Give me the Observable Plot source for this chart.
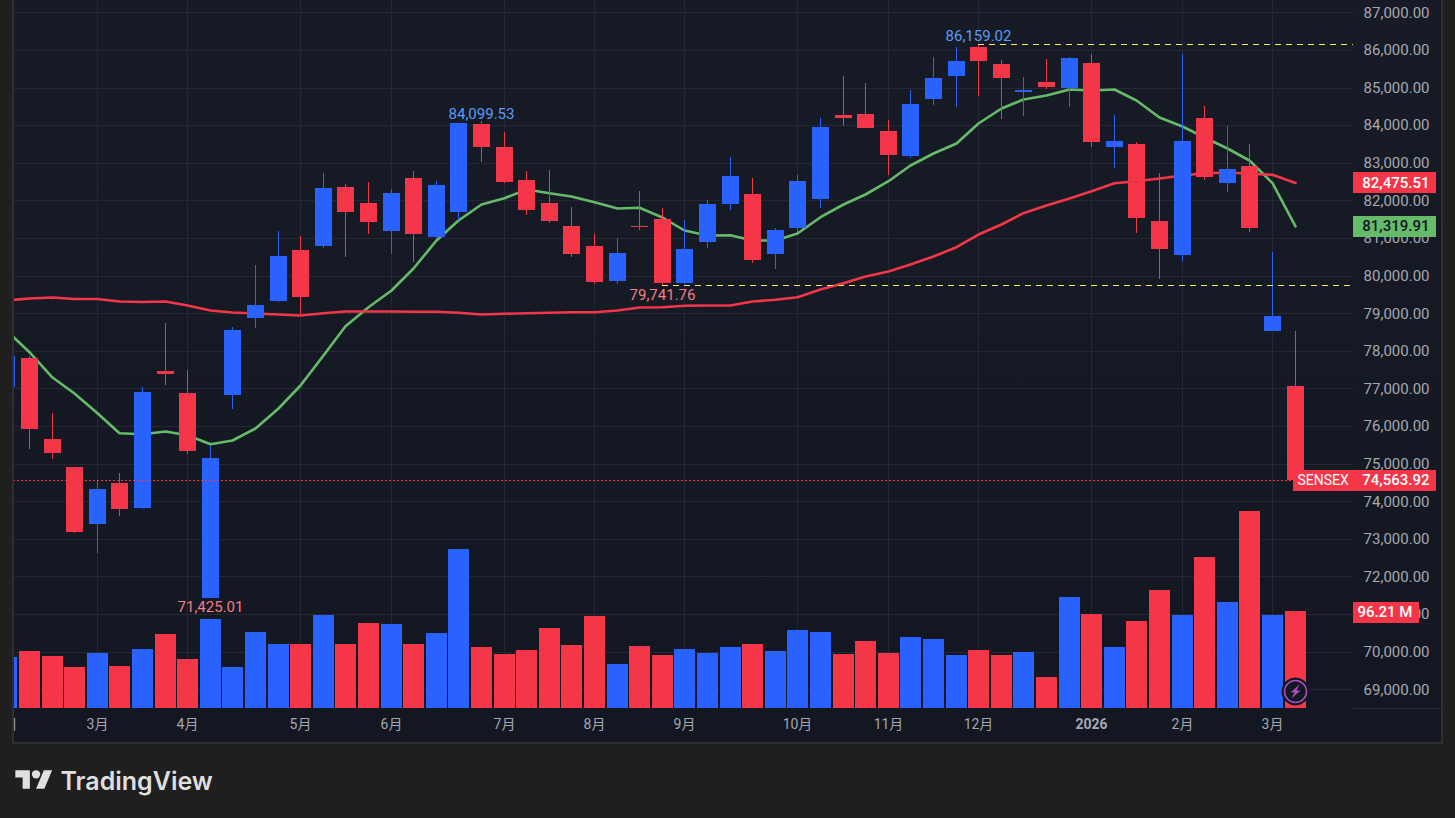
<!DOCTYPE html>
<html lang="zh">
<head>
<meta charset="utf-8">
<script src="https://cdn.jsdelivr.net/npm/d3@7"></script>
<script src="https://cdn.jsdelivr.net/npm/@observablehq/plot@0.6"></script>
<style>
html,body{margin:0;padding:0;background:#1f1f1f;width:1455px;height:818px;overflow:hidden}
#wrap{position:relative;width:1455px;height:818px}
#panel{position:absolute;left:12px;top:-2px;width:1431px;height:746px;box-sizing:border-box;border:2px solid #2e2f31;background:linear-gradient(#171b26,#131722)}
#strip{position:absolute;left:0;top:0;width:12px;height:744px;background:#1f1f1f;border-right:2px solid #2e2f31}
#chart{position:absolute;left:0;top:0}
#chart svg{background:transparent;display:block}
#logo{position:absolute;left:15px;top:766px;width:38px;height:29px}
</style>
</head>
<body>
<div id="wrap">
<div id="panel"></div>
<div id="chart"></div>
<div id="strip"></div>
<svg id="logo" viewBox="0 0 36 28"><path fill="#e0e0e0" d="M14 22H7V11H0V4h14v18zM28 22h-8l7.5-18h8L28 22z"/><circle fill="#e0e0e0" cx="20" cy="8" r="4"/></svg>
</div>
<script>
const opens = [77045,77809,75655,74910,73403,74485,73820,77463,76878,71425,76825,78872,79324,80680,80786,82355,81930,81185,82594,81026,81690,84030,83419,82541,81930,81318,80786,79856,81318,81504,79803,80893,81903,82169,80574,81265,82036,84269,84296,83844,83179,84695,85306,86077,85625,84881,85147,84987,85652,83419,83498,81451,80547,84190,82461,82913,78526,77064];
const highs = [77862,77862,76338,74910,74565,74751,77037,78739,77489,75469,78633,80281,81185,81052,82727,82435,82488,82302,82780,82515,84057,84099.53,83817,82780,82807,81823,81105,80999,82249,81797,81478,82009,83153,82594,81265,82674,84190,85306,85120,84136,84934,85811,86077,86159.02,85732,85280,85758,85811,85891,84269,83552,82727,85891,84509,83977,83498,80627,78526];
const lows = [77045,75397,75131,73155,72632,73608,73794,77091,75256,71425.01,76452,78606,79300,78978,80733,80502,81105,80574,80361,81000,81478,83020,82461,81611,81398,80494,79776,79776,81212,79741.76,79780,80733,81744,80334,80175,81159,81797,83977,83924,82674,83126,84535,84482,84775,84163,84243,84961,84482,83419,82860,81132,79909,80388,82541,82222,81159,78526,74563.92];
const closes = [77862,75929,75283,73182,74325,73794,76904,77383,75336,75150,78553,79218,80520,79430,82328,81690,81424,82196,81105,82408,84057,83419,82488,81744,81451,80574,79829,80600,81292,79803,80707,81903,82648,80414,81212,82515,83950,84190,83924,83206,84562,85253,85705,85705,85253,84934,85014,85785,83552,83578,81531,80707,83578,82621,82834,81265,78925,74563.92];
const volumes = [50.6,56.5,51.6,40.7,54.6,41.7,58.5,73.4,48.6,88.3,40.7,75.4,63.5,63.5,92.3,63.5,84.3,83.3,63.5,74.4,157.7,60.5,53.6,57.5,79.4,62.5,91.3,43.6,61.5,52.6,58.5,54.6,60.5,63.5,56.5,77.4,75.4,53.6,66.5,54.6,70.4,68.4,52.6,57.5,52.6,55.6,30.8,110.1,93.2,60.5,86.3,117.1,92.3,149.8,105.2,195.4,92.3,96.21];
const fastAverage = [78553,77976,77303,76878,76354,75822,75796,75868,75769,75530,75628,75947,76479,77091,77888,78667,79172,79616,80201,80946,81478,81903,82071,82302,82203,82116,81964,81797,81815,81557,81212,81079,81087,80946,80946,81132,81565,81903,82169,82523,82940,83259,83525,84057,84455,84695,84801,84961,84934,84961,84668,84216,83977,83684,83392,83073,82470,81319.91];
const slowAverage = [79351,79404,79430,79390,79390,79324,79311,79324,79218,79085,79032,79005,78978,78952,79013,79058,79058,79058,79050,79050,79024,78978,78997,79013,79024,79040,79040,79085,79164,79172,79210,79218,79218,79324,79369,79438,79643,79811,79989,80122,80308,80520,80768,81105,81371,81672,81876,82063,82257,82470,82523,82594,82674,82735,82754,82719,82693,82475.51];
const monthIndex = [0,4,8,13,17,22,26,30,35,39,43,52,56];
const monthLabels = ["2月","3月","4月","5月","6月","7月","8月","9月","10月","11月","12月","2月","3月"];
const yearIndex = [48];
const yearLabels = ["2026"];
const priceTicks = [69000,70000,71000,72000,73000,74000,75000,76000,77000,78000,79000,80000,81000,82000,83000,84000,85000,86000,87000];
const extremes = [
  {label:"84,099.53", index:21, price:84099.53, kind:"high"},
  {label:"86,159.02", index:43, price:86159.02, kind:"high"},
  {label:"79,741.76", index:29, price:79741.76, kind:"low"},
  {label:"71,425.01", index:9, price:71425.01, kind:"low"}
];
const lastClose = 74563.92, lastVolume = 96.21, lastFast = 81319.91, lastSlow = 82475.51;

const BLUE="#2962ff", RED="#f43648", GREEN="#66bb6a", GRID="#242833", AXIS="#a5a8b1", DASH="#fbe85c";
const FONT="Roboto, 'Noto Sans CJK SC', sans-serif";
const xDomain=[0.292,59.58], xEnd=xDomain[1];
const yDomain=[68503,87327];
const volumeToPrice=v=>yDomain[0]+v*26.8;
const candles=d3.range(opens.length).map(i=>({i,open:opens[i],high:highs[i],low:lows[i],close:closes[i],volume:volumes[i],color:closes[i]>=opens[i]?BLUE:RED}));
const fmt=d3.format(",.2f");
const tagEnd=xEnd+3.67, volTagEnd=xEnd+2.92, axisEnd=xEnd+3.89, sensexStart=xEnd-2.65;
const tags=[
  {y:lastSlow,x1:xEnd,x2:tagEnd,fill:RED,text:fmt(lastSlow),color:"#fff"},
  {y:lastFast,x1:xEnd,x2:tagEnd,fill:GREEN,text:fmt(lastFast),color:"#131722"},
  {y:lastClose,x1:xEnd,x2:tagEnd,fill:RED,text:fmt(lastClose),color:"#fff"},
  {y:volumeToPrice(lastVolume)-30,x1:xEnd,x2:volTagEnd,fill:RED,text:"96.21 M",color:"#fff"}
];
const bolt={draw(c){c.moveTo(4,-7);c.lineTo(-5,1);c.lineTo(-1,1);c.lineTo(-4,7);c.lineTo(5,-1);c.lineTo(1,-1);c.closePath();}};
const iconPrice=68955;

const chart=Plot.plot({
  width:1455,height:818,marginLeft:13,marginRight:102,marginTop:0,marginBottom:110,
  style:{background:"transparent",fontFamily:FONT},
  x:{domain:xDomain,axis:null,label:null,round:true},
  y:{domain:yDomain,axis:null,label:null},
  marks:[
    Plot.ruleY(priceTicks,{stroke:GRID,strokeWidth:1,shapeRendering:"crispEdges"}),
    Plot.ruleX([...monthIndex,...yearIndex],{stroke:GRID,strokeWidth:1,shapeRendering:"crispEdges",clip:"frame"}),
    Plot.ruleY([yDomain[0]],{x1:xEnd,x2:axisEnd,stroke:"#2a2e39",strokeWidth:1}),
    Plot.axisY(priceTicks,{anchor:"right",tickSize:0,tickPadding:76,textAnchor:"end",tickFormat:fmt,fill:AXIS,fontSize:15,label:null}),
    Plot.axisX(monthIndex,{anchor:"bottom",tickSize:0,tickPadding:11,tickFormat:d=>monthLabels[monthIndex.indexOf(d)],fill:AXIS,fontSize:14,label:null}),
    Plot.axisX(yearIndex,{anchor:"bottom",tickSize:0,tickPadding:11,tickFormat:d=>yearLabels[yearIndex.indexOf(d)],fill:AXIS,fontSize:14,fontWeight:700,label:null}),
    Plot.ruleX(candles,{x:"i",y1:()=>yDomain[0],y2:d=>volumeToPrice(d.volume),stroke:"color",strokeWidth:21,shapeRendering:"crispEdges",clip:"frame"}),
    Plot.line(fastAverage,{x:(d,i)=>i,y:d=>d,stroke:GREEN,strokeWidth:2.6,clip:"frame"}),
    Plot.line(slowAverage,{x:(d,i)=>i,y:d=>d,stroke:RED,strokeWidth:2.6,clip:"frame"}),
    Plot.ruleX(candles,{x:"i",y1:"low",y2:"high",stroke:"color",strokeWidth:1,shapeRendering:"crispEdges",clip:"frame"}),
    Plot.ruleX(candles,{x:"i",y1:"open",y2:"close",stroke:"color",strokeWidth:17,shapeRendering:"crispEdges",clip:"frame"}),
    Plot.ruleY([extremes[1]],{y:"price",x1:"index",x2:()=>xEnd,stroke:DASH,strokeWidth:1,strokeDasharray:"6,5",shapeRendering:"crispEdges"}),
    Plot.ruleY([extremes[2]],{y:"price",x1:"index",x2:()=>xEnd,stroke:DASH,strokeWidth:1,strokeDasharray:"6,5",shapeRendering:"crispEdges"}),
    Plot.ruleY([lastClose],{stroke:RED,strokeWidth:1,strokeDasharray:"2,2",shapeRendering:"crispEdges"}),
    Plot.text(extremes.filter(d=>d.kind==="high"),{x:"index",y:"price",text:"label",dy:-8,fill:"#5b9cf6",fontSize:15}),
    Plot.text(extremes.filter(d=>d.kind==="low"),{x:"index",y:"price",text:"label",dy:9,fill:"#f77c80",fontSize:15}),
    Plot.ruleY(tags,{y:"y",x1:"x1",x2:"x2",stroke:"fill",strokeWidth:21,shapeRendering:"crispEdges"}),
    Plot.text(tags,{x:"x2",y:"y",text:"text",fill:"color",textAnchor:"end",dx:-7,fontSize:15,fontWeight:500}),
    Plot.ruleY([lastClose],{x1:()=>sensexStart,x2:()=>xEnd,stroke:RED,strokeWidth:21,shapeRendering:"crispEdges"}),
    Plot.text([lastClose],{x:()=>sensexStart,y:d=>d,text:()=>"SENSEX",fill:"#fff",textAnchor:"start",dx:4,fontSize:14}),
    Plot.dot([iconPrice],{x:()=>57,y:d=>d,r:13.5,fill:"#131722",stroke:"#131722",strokeWidth:1}),
    Plot.dot([iconPrice],{x:()=>57,y:d=>d,r:11,fill:"none",stroke:"#a94fc0",strokeWidth:1.5}),
    Plot.dot([iconPrice],{x:()=>57,y:d=>d,symbol:bolt,r:6,fill:"#a94fc0",stroke:"none"}),
    Plot.text(["TradingView"],{frameAnchor:"bottom-left",dx:47,dy:81,text:d=>d,fill:"#dedede",fontSize:25,fontWeight:600,fontFamily:"Inter",textAnchor:"start"})
  ]
});
document.getElementById("chart").appendChild(chart);
</script>
</body>
</html>
